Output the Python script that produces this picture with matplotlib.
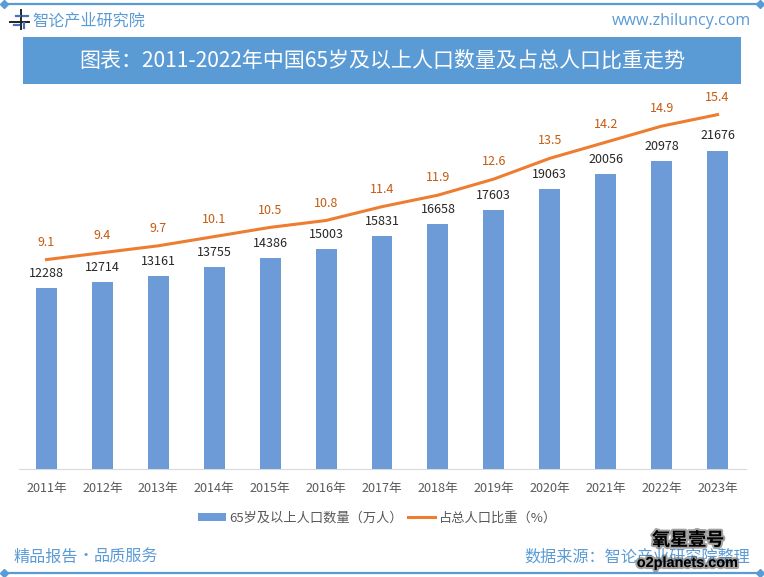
import matplotlib
matplotlib.use("Agg")
import matplotlib.pyplot as plt
import matplotlib.patheffects as pe
from matplotlib.patches import Rectangle

plt.rcParams['font.family'] = ['Noto Sans CJK SC', 'DejaVu Sans']

# data
years = ["2011年", "2012年", "2013年", "2014年", "2015年", "2016年", "2017年",
         "2018年", "2019年", "2020年", "2021年", "2022年", "2023年"]
population = [12288, 12714, 13161, 13755, 14386, 15003, 15831,
              16658, 17603, 19063, 20056, 20978, 21676]
share = [9.1, 9.4, 9.7, 10.1, 10.5, 10.8, 11.4, 11.9, 12.6, 13.5, 14.2, 14.9, 15.4]

W, H = 764, 577
BLUE = "#5B9BD5"
BAR = "#6D9BD8"
ORANGE = "#ED7D31"
GREY = "#595959"

fig = plt.figure(figsize=(W / 100, H / 100), dpi=100, facecolor="white")

# overlay in pixel coords for the frame, banner and header/footer
bg = fig.add_axes([0, 0, 1, 1])
bg.set_xlim(0, W)
bg.set_ylim(H, 0)
bg.axis("off")

bg.plot([4, 760], [4, 4], color=BLUE, lw=1.6)
bg.plot([4, 760], [573, 573], color=BLUE, lw=1.6)
bg.plot([4, 760, 4, 760], [4, 4, 573, 573], ls="none", marker="D", ms=4, color=BLUE)

bg.add_patch(Rectangle((23, 37), 718, 47, color=BLUE, lw=0))
bg.text(382, 61, "图表：2011-2022年中国65岁及以上人口数量及占总人口比重走势",
        color="white", fontsize=15.1, ha="center", va="center")

# logo
bg.plot([10, 29], [22, 22], color="#222222", lw=1.4)
bg.plot([21, 21], [10, 29], color="#222222", lw=1.4)
bg.plot([16, 20], [16, 16], color="#4472C4", lw=1.6)
bg.plot([14, 19], [25, 25], color="#4472C4", lw=1.6)
bg.plot([23, 28], [16, 16], color="#4472C4", lw=1.6)
bg.plot([24, 24], [23, 28], color="#4472C4", lw=1.6)

bg.text(32, 21, "智论产业研究院", color=BLUE, fontsize=11.6, ha="left", va="center")
bg.text(751, 21, "www.zhiluncy.com", color=BLUE, fontsize=11.6, ha="right", va="center",
        family=["Open Sans", "DejaVu Sans"])
bg.text(13, 557, "精品报告", color=BLUE, fontsize=11.6, ha="left", va="center")
bg.text(86, 556, "•", color=BLUE, fontsize=11.6, ha="center", va="center")
bg.text(158, 557, "品质服务", color=BLUE, fontsize=11.6, ha="right", va="center")
bg.text(750, 557, "数据来源：智论产业研究院整理", color=BLUE, fontsize=11.6, ha="right", va="center")

# chart
ax = fig.add_axes([18.5 / W, 1 - 469 / H, 727 / W, 379 / H])
ax.patch.set_alpha(0)
x = list(range(len(years)))
bars = ax.bar(x, population, width=0.375, color=BAR, label="65岁及以上人口数量（万人）")
ax.set_xlim(-0.5, 12.5)
ax.set_ylim(0, 25800)
ax.set_xticks(x)
ax.set_xticklabels(years, fontsize=9.1, color=GREY)
ax.tick_params(axis="x", length=0, pad=9.5)
ax.set_yticks([])
for s in ["top", "left", "right"]:
    ax.spines[s].set_visible(False)
ax.spines["bottom"].set_color("#D9D9D9")

for i, v in zip(x, population):
    ax.annotate(str(v), (i, v), xytext=(0, 10.5), textcoords="offset points",
                ha="center", va="center", fontsize=9, color="#262626")

ax2 = ax.twinx()
ax2.patch.set_alpha(0)
line, = ax2.plot(x, share, color=ORANGE, lw=2.2, label="占总人口比重（%）")
ax2.set_ylim(0, 16.47)
ax2.set_yticks([])
for s in ax2.spines.values():
    s.set_visible(False)
for i, v in zip(x, share):
    ax2.annotate(f"{v:.1f}", (i, v), xytext=(0, 12.5), textcoords="offset points",
                 ha="center", va="center", fontsize=9, color="#C55A11")

fig.legend(handles=[bars, line], loc="center", bbox_to_anchor=(378 / W, 1 - 518 / H),
           ncol=2, frameon=False, fontsize=9.5, labelcolor=GREY,
           handlelength=2.05, handleheight=0.6, columnspacing=0.4, handletextpad=0.3)

# watermark
top = fig.add_axes([0, 0, 1, 1])
top.set_xlim(0, W)
top.set_ylim(H, 0)
top.axis("off")
glow = [pe.withStroke(linewidth=3, foreground="#555555", alpha=0.55)]
top.text(688, 540, "氧星壹号", color="black", fontsize=13, fontweight="bold",
         ha="center", va="center", path_effects=glow)
top.text(687, 563, "o2planets.com", color="black", fontsize=10.4, fontweight="bold",
         ha="center", va="center", family=["Liberation Sans", "DejaVu Sans"], path_effects=glow)

fig.savefig("out.png", dpi=100, facecolor="white")
